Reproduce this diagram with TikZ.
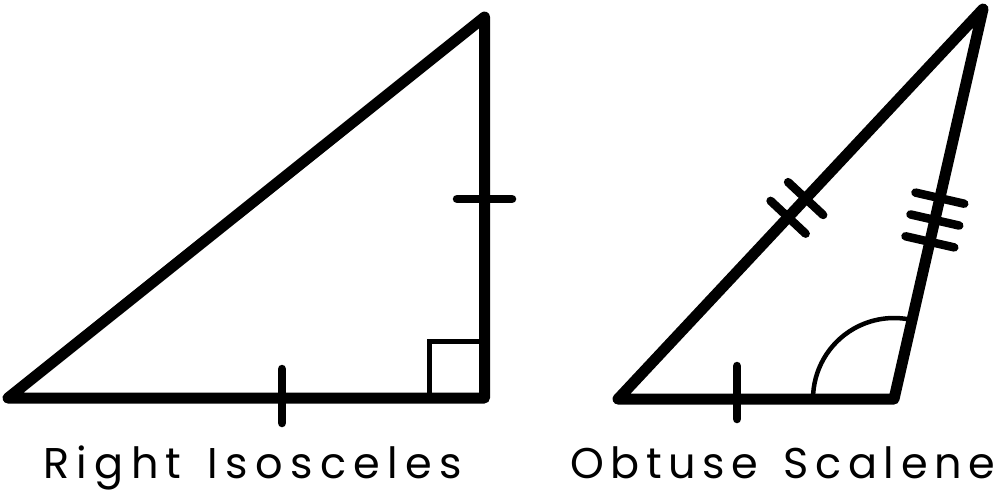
\documentclass[tikz,border=0pt]{standalone}
\usepackage{fontspec}
\setmainfont{Poppins}
\usetikzlibrary{calc}
\tikzset{
  side/.style={line width=11pt, line join=round, line cap=round},
  tick/.style={line width=8.5pt, line cap=round},
  thin/.style={line width=5pt},
  lbl/.style={inner sep=0pt, anchor=base west, font=\fontsize{43}{48}\selectfont}
}
\begin{document}
\begin{tikzpicture}[x=1pt,y=-1pt]
\useasboundingbox (0,0) rectangle (1000,499);
% left triangle
\coordinate (A) at (8,398);
\coordinate (B) at (484.5,398);
\coordinate (C) at (484.5,17);
\draw[thin] (429.5,398) -- (429.5,341.5) -- (484.5,341.5);
\draw[side] (A) -- (B) -- (C) -- cycle;
\draw[tick] (282,369) -- (282,423);
\draw[tick] (457,199) -- (512,199);
% right triangle
\coordinate (D) at (618,399);
\coordinate (E) at (894,399);
\coordinate (F) at (983,9);
\draw[line width=4.5pt] (E) ++(180:81) arc[start angle=180, end angle=283, radius=81];
\draw[side] (D) -- (E) -- (F) -- cycle;
\draw[tick] (737,366) -- (737,419);
% double ticks on D--F
\foreach \t in {0.466,0.514}{
  \coordinate (P) at ($(D)!\t!(F)$);
  \draw[tick] ($(P)!24pt!90:(F)$) -- ($(P)!24pt!-90:(F)$);
}
% triple ticks on E--F
\foreach \t in {0.403,0.459,0.515}{
  \coordinate (Q) at ($(E)!\t!(F)$);
  \draw[tick] ($(Q)!25pt!90:(F)$) -- ($(Q)!25pt!-90:(F)$);
}
\node[lbl] (l1) at (43,478) {\makebox[419pt][s]{R\hfill i\hfill g\hfill h\hfill t\hfill\ \hfill I\hfill s\hfill o\hfill s\hfill c\hfill e\hfill l\hfill e\hfill s}};
\node[lbl] (l2) at (570,478) {\makebox[425pt][s]{O\hfill b\hfill t\hfill u\hfill s\hfill e\hfill\ \hfill S\hfill c\hfill a\hfill l\hfill e\hfill n\hfill e}};
\end{tikzpicture}
\end{document}
